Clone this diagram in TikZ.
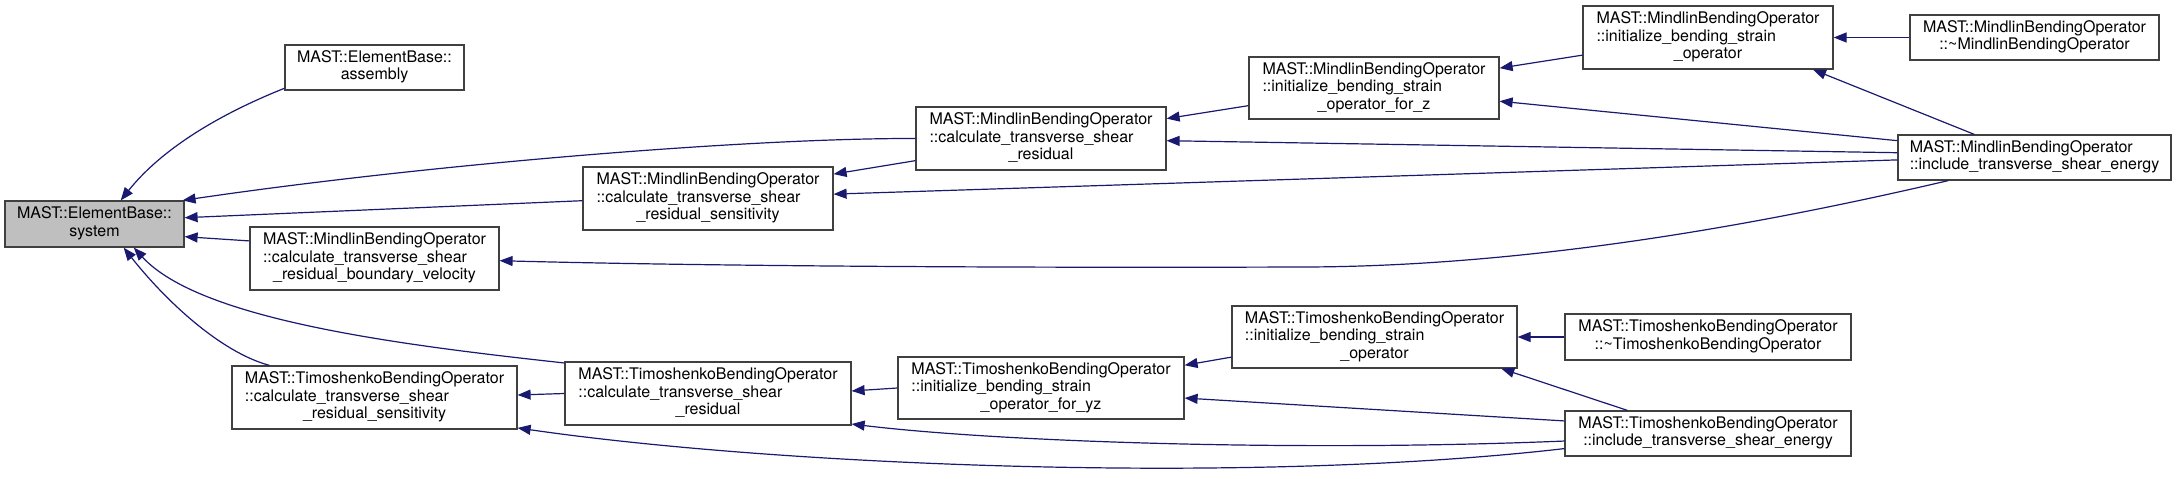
\documentclass[tikz,border=0pt]{standalone}
\usepackage{fontspec}
\setmainfont{TeX Gyre Heros}
\usetikzlibrary{arrows.meta}

\definecolor{callblue}{HTML}{191970}
\definecolor{hlgray}{HTML}{BFBFBF}

% box labels: first lines flush left, last line centred
\newcommand{\lbltwo}[2]{\begin{tabular}{@{}l@{}}#1\\\multicolumn{1}{@{}c@{}}{#2}\end{tabular}}
\newcommand{\lblthree}[3]{\begin{tabular}{@{}l@{}}#1\\#2\\\multicolumn{1}{@{}c@{}}{#3}\end{tabular}}

\begin{document}
\begin{tikzpicture}[x=1pt,y=-1pt,
    fn/.style={draw=black!75, line width=1.2pt, fill=white, inner sep=0pt,
      font=\fontsize{16pt}{17.5pt}\selectfont},
    call/.style={draw=callblue, line width=1.2pt, {Triangle[length=13pt,width=10pt]}-}]
    % Page
    \useasboundingbox (0,0) rectangle (2176,479);

    % Functions
    \node[fn, fill=hlgray, minimum width=179pt, minimum height=46pt] (sys) at (94.5,224) {\lbltwo{MAST::ElementBase::}{system}};
    \node[fn, minimum width=179pt, minimum height=45pt] (asm) at (374.5,67.5) {\lbltwo{MAST::ElementBase::}{assembly}};
    \node[fn, minimum width=249pt, minimum height=63pt] (mbv) at (374.5,258.5) {\lblthree{MAST::MindlinBendingOperator}{::calculate\_transverse\_shear}{\_residual\_boundary\_velocity}};
    \node[fn, minimum width=285pt, minimum height=63pt] (trs) at (374.5,397.5) {\lblthree{MAST::TimoshenkoBendingOperator}{::calculate\_transverse\_shear}{\_residual\_sensitivity}};
    \node[fn, minimum width=250pt, minimum height=63pt] (mrs) at (708,198.5) {\lblthree{MAST::MindlinBendingOperator}{::calculate\_transverse\_shear}{\_residual\_sensitivity}};
    \node[fn, minimum width=286pt, minimum height=63pt] (tr) at (708,393.5) {\lblthree{MAST::TimoshenkoBendingOperator}{::calculate\_transverse\_shear}{\_residual}};
    \node[fn, minimum width=250pt, minimum height=63pt] (mr) at (1041,138.5) {\lblthree{MAST::MindlinBendingOperator}{::calculate\_transverse\_shear}{\_residual}};
    \node[fn, minimum width=286pt, minimum height=62pt] (tyz) at (1041,388) {\lblthree{MAST::TimoshenkoBendingOperator}{::initialize\_bending\_strain}{\_operator\_for\_yz}};
    \node[fn, minimum width=250pt, minimum height=62pt] (mz) at (1374,88) {\lblthree{MAST::MindlinBendingOperator}{::initialize\_bending\_strain}{\_operator\_for\_z}};
    \node[fn, minimum width=285pt, minimum height=62pt] (ts) at (1374.5,337) {\lblthree{MAST::TimoshenkoBendingOperator}{::initialize\_bending\_strain}{\_operator}};
    \node[fn, minimum width=250pt, minimum height=63pt] (ms) at (1708,37.5) {\lblthree{MAST::MindlinBendingOperator}{::initialize\_bending\_strain}{\_operator}};
    \node[fn, minimum width=286pt, minimum height=46pt] (td) at (1708,337) {\lbltwo{MAST::TimoshenkoBendingOperator}{::\textasciitilde TimoshenkoBendingOperator}};
    \node[fn, minimum width=286pt, minimum height=45pt] (ti) at (1708,433.5) {\lbltwo{MAST::TimoshenkoBendingOperator}{::include\_transverse\_shear\_energy}};
    \node[fn, minimum width=249pt, minimum height=45pt] (md) at (2034.5,37.5) {\lbltwo{MAST::MindlinBendingOperator}{::\textasciitilde MindlinBendingOperator}};
    \node[fn, minimum width=273pt, minimum height=45pt] (mi) at (2034.5,157.5) {\lbltwo{MAST::MindlinBendingOperator}{::include\_transverse\_shear\_energy}};

    % Callers of system
    \draw[call] (sys.42) .. controls (160,151) and (215,116) .. (asm.193);
    \draw[call] (sys.15) .. controls (430,164) and (750,138) .. (mr.180);
    \draw[call] (sys.4.5) -- (mrs.181.6);
    \draw[call] (sys.-8.3) -- (mbv.172.9);
    \draw[call] (sys.-31.5) .. controls (200,320) and (400,345) .. (tr.168);
    \draw[call] (sys.-39.9) .. controls (165,300) and (220,352) .. (trs.163.2);

    % Mindlin branch
    \coordinate (flat) at (1300,267);
    \draw[call] (mrs.11.5) -- (mr.190.2);
    \draw[call] (mrs.2.1) -- (mi.181.9);
    \draw[call] (mr.-1.1) -- (mi.178.5);
    \draw[call] (mr.9.3) -- (mz.188.6);
    \draw[call] (mz.9.1) -- (ms.188.9);
    \draw[call] (mz.-6.8) -- (mi.173.9);
    \draw[call] (ms.east) -- (md.west);
    \draw[call] (ms.-17.8) -- (mi.159.6);
    \draw[call] (mbv.-1.6) .. controls (700,266) and (1000,268) .. (flat)
      .. controls (1550,267) and (1801,215) .. (mi.195.1);

    % Timoshenko branch
    \draw[call] (trs.1) -- (tr.180.6);
    \draw[call] (trs.-12.3) .. controls (780,466) and (1250,485) .. (ti.186.6);
    \draw[call] (tr.1) -- (tyz.180.8);
    \draw[call] (tr.-12.4) .. controls (1000,442) and (1300,452) .. (ti.183.4);
    \draw[call] (tyz.9.1) -- (ts.188.8);
    \draw[call] (tyz.-4) -- (ti.175.8);
    \draw[call] (ts.east) -- (td.west);
    \draw[call] (ts.-14.9) -- (ti.164.7);
\end{tikzpicture}
\end{document}
